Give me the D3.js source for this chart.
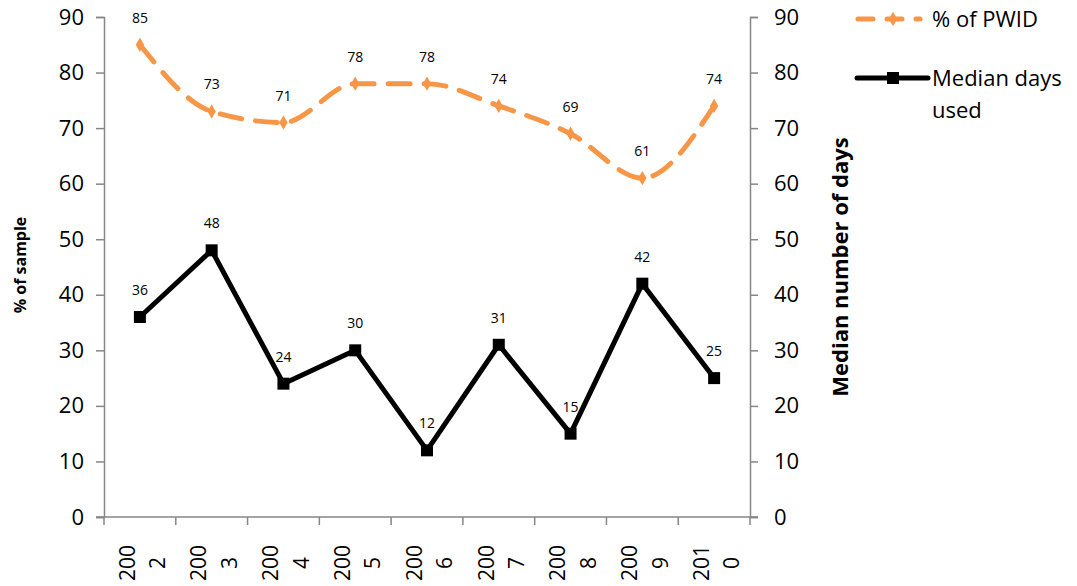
<!DOCTYPE html>
<html>
<head>
<meta charset="utf-8">
<script src="https://cdn.jsdelivr.net/npm/d3@7"></script>
<style>
  html, body { margin: 0; padding: 0; background: #fff; }
  svg { display: block; font-family: "Open Sans", "Liberation Sans", sans-serif; }
</style>
</head>
<body>
<svg id="chart" width="1077" height="586"></svg>
<script>
// Survey years (wrapped in two lines like "200" / "2")
const years = ["2002", "2003", "2004", "2005", "2006", "2007", "2008", "2009", "2010"];
// % of people who inject drugs (left axis)
const pwidPct = [85, 73, 71, 78, 78, 74, 69, 61, 74];
// Median number of days used (right axis)
const medianDays = [36, 48, 24, 30, 12, 31, 15, 42, 25];
const yTicks = [0, 10, 20, 30, 40, 50, 60, 70, 80, 90];

const svg = d3.select("#chart");
const plot = { left: 104, right: 750, top: 17, bottom: 517 };

const x = d3.scaleBand().domain(years).range([plot.left, plot.right]);
const yLeft = d3.scaleLinear().domain([0, 90]).range([plot.bottom, plot.top]);
const yRight = d3.scaleLinear().domain([0, 90]).range([plot.bottom, plot.top]);
const cx = d => x(d) + x.bandwidth() / 2;

const axisColor = "#868686";

// Left axis
const gl = svg.append("g").attr("transform", `translate(${plot.left},0)`)
  .call(d3.axisLeft(yLeft).tickValues(yTicks).tickSize(8).tickPadding(12));
// Right axis
const gr = svg.append("g").attr("transform", `translate(${plot.right},0)`)
  .call(d3.axisRight(yRight).tickValues(yTicks).tickSize(8).tickPadding(16));
// Bottom axis (ticks at category boundaries)
const gb = svg.append("g").attr("transform", `translate(0,${plot.bottom})`)
  .call(d3.axisBottom(x).tickSize(0).tickFormat(""));
gb.selectAll(".tick line").remove();
const bounds = years.map(d => x(d)).concat([plot.right]);
gb.selectAll("line.bound").data(bounds).enter().append("line")
  .attr("x1", d => d).attr("x2", d => d).attr("y1", 0).attr("y2", 8)
  .attr("stroke", axisColor).attr("stroke-width", 1.5);
gb.select(".domain").attr("d", `M${plot.left - 8},0H${plot.right + 8}`);

[gl, gr, gb].forEach(g => {
  g.select(".domain").attr("stroke", axisColor).attr("stroke-width", 1.5);
  g.selectAll(".tick line").attr("stroke", axisColor).attr("stroke-width", 1.5);
  g.selectAll(".tick text").attr("font-size", 22).attr("fill", "#000")
    .attr("font-family", "\"Open Sans\", sans-serif");
});

// Rotated, wrapped year labels
const yearLabels = svg.append("g").selectAll("text").data(years).enter().append("text")
  .attr("transform", d => `translate(${cx(d)},563) rotate(-90)`)
  .attr("text-anchor", "middle")
  .attr("font-size", 21)
  .attr("fill", "#000");
yearLabels.append("tspan").attr("x", 0).attr("dy", "-0.25em").text(d => d.slice(0, 3));
yearLabels.append("tspan").attr("x", 0).attr("dy", "1.45em").text(d => d.slice(3));

// Axis titles
svg.append("text")
  .attr("transform", "translate(26,265) rotate(-90)")
  .attr("text-anchor", "middle").attr("font-size", 16).attr("font-weight", "bold")
  .text("% of sample");
svg.append("text")
  .attr("transform", "translate(848,267) rotate(-90)")
  .attr("text-anchor", "middle").attr("font-size", 22).attr("font-weight", "bold")
  .text("Median number of days");

const orange = "#F79646";

// % of PWID series (smoothed dashed orange with diamond markers)
const linePwid = d3.line().x((d, i) => cx(years[i])).y(d => yLeft(d)).curve(d3.curveMonotoneX);
svg.append("path").datum(pwidPct)
  .attr("d", linePwid)
  .attr("fill", "none").attr("stroke", orange).attr("stroke-width", 5)
  .attr("stroke-dasharray", "22,14").attr("stroke-linecap", "round");
svg.append("g").selectAll("path").data(pwidPct).enter().append("path")
  .attr("d", d3.symbol(d3.symbolDiamond, 60))
  .attr("transform", (d, i) => `translate(${cx(years[i])},${yLeft(d)})`)
  .attr("fill", orange);

// Median days series (solid black with square markers)
const lineDays = d3.line().x((d, i) => cx(years[i])).y(d => yRight(d));
svg.append("path").datum(medianDays)
  .attr("d", lineDays)
  .attr("fill", "none").attr("stroke", "#000").attr("stroke-width", 5)
  .attr("stroke-linejoin", "round");
svg.append("g").selectAll("rect").data(medianDays).enter().append("rect")
  .attr("x", (d, i) => cx(years[i]) - 6).attr("y", d => yRight(d) - 6)
  .attr("width", 12).attr("height", 12).attr("fill", "#000");

// Data labels
const addLabels = (vals, scale) => svg.append("g").selectAll("text").data(vals).enter().append("text")
  .attr("x", (d, i) => cx(years[i])).attr("y", d => scale(d) - 22)
  .attr("text-anchor", "middle").attr("font-size", 14).attr("fill", "#000")
  .text(d => d);
addLabels(pwidPct, yLeft);
addLabels(medianDays, yRight);

// Legend
const lg = svg.append("g");
lg.append("line").attr("x1", 858).attr("x2", 920).attr("y1", 19).attr("y2", 19)
  .attr("stroke", orange).attr("stroke-width", 5).attr("stroke-dasharray", "15,14")
  .attr("stroke-linecap", "round");
lg.append("path").attr("d", d3.symbol(d3.symbolDiamond, 60))
  .attr("transform", "translate(893,19)").attr("fill", orange);
lg.append("text").attr("x", 932).attr("y", 27).attr("font-size", 22).text("% of PWID");
lg.append("line").attr("x1", 857).attr("x2", 928).attr("y1", 78).attr("y2", 78)
  .attr("stroke", "#000").attr("stroke-width", 5).attr("stroke-linecap", "round");
lg.append("rect").attr("x", 887).attr("y", 72).attr("width", 12).attr("height", 12).attr("fill", "#000");
lg.append("text").attr("x", 932).attr("y", 86).attr("font-size", 22).text("Median days");
lg.append("text").attr("x", 932).attr("y", 118).attr("font-size", 22).text("used");
</script>
</body>
</html>
